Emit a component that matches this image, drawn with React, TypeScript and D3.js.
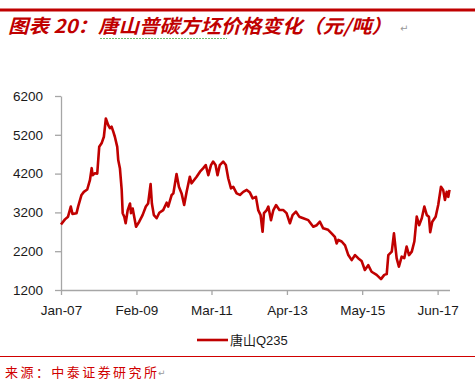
import React, { useEffect, useRef } from 'react';
import * as d3 from 'd3';

// 唐山Q235 price (date, yuan/ton)
const dates = [
  '2007-01-01', '2007-02-10', '2007-03-13', '2007-04-10', '2007-04-27', '2007-06-07',
  '2007-06-23', '2007-07-27', '2007-08-20', '2007-09-23', '2007-10-20', '2007-11-07',
  '2007-11-16', '2007-12-09', '2008-01-02', '2008-01-22', '2008-02-15', '2008-03-09',
  '2008-03-29', '2008-04-22', '2008-05-09', '2008-05-26', '2008-06-12', '2008-06-28',
  '2008-07-22', '2008-08-01', '2008-08-18', '2008-09-05', '2008-09-15', '2008-10-01',
  '2008-10-15', '2008-11-05', '2008-11-28', '2008-12-08', '2008-12-25', '2009-01-28',
  '2009-03-01', '2009-04-04', '2009-05-07', '2009-05-30', '2009-06-24', '2009-07-07',
  '2009-07-27', '2009-08-24', '2009-09-20', '2009-10-29', '2009-12-03', '2009-12-19',
  '2010-01-23', '2010-02-09', '2010-03-13', '2010-04-06', '2010-05-03', '2010-05-29',
  '2010-06-23', '2010-07-25', '2010-08-12', '2010-10-02', '2010-11-05', '2010-12-08',
  '2011-01-02', '2011-01-28', '2011-02-24', '2011-03-17', '2011-04-11', '2011-05-01',
  '2011-05-24', '2011-06-27', '2011-07-24', '2011-08-17', '2011-09-14', '2011-10-07',
  '2011-11-10', '2011-12-13', '2012-01-16', '2012-02-20', '2012-03-23', '2012-04-20',
  '2012-05-23', '2012-06-15', '2012-07-09', '2012-07-29', '2012-08-12', '2012-09-09',
  '2012-09-25', '2012-10-22', '2012-11-15', '2012-12-12', '2013-01-15', '2013-02-24',
  '2013-03-28', '2013-05-01', '2013-05-28', '2013-07-01', '2013-08-03', '2013-09-13',
  '2013-11-03', '2013-12-23', '2014-01-27', '2014-02-28', '2014-04-02', '2014-05-22',
  '2014-06-26', '2014-07-29', '2014-08-16', '2014-09-02', '2014-10-06', '2014-11-09',
  '2014-12-12', '2015-01-15', '2015-02-18', '2015-03-21', '2015-04-25', '2015-05-28',
  '2015-07-01', '2015-08-04', '2015-09-24', '2015-11-07', '2015-12-10', '2016-01-04',
  '2016-01-20', '2016-02-24', '2016-03-17', '2016-04-13', '2016-05-06', '2016-06-03',
  '2016-06-29', '2016-07-23', '2016-08-16', '2016-09-13', '2016-10-09', '2016-11-02',
  '2016-11-26', '2016-12-23', '2017-01-18', '2017-02-12', '2017-03-05', '2017-03-18',
  '2017-04-08', '2017-05-12', '2017-06-07', '2017-07-05', '2017-07-27', '2017-08-14',
  '2017-09-01', '2017-09-17', '2017-09-29',
];
const prices = [
  2890, 3020, 3090, 3350, 3160, 3180,
  3350, 3650, 3730, 3790, 4030, 4340,
  4160, 4210, 4200, 4890, 4980, 5150,
  5620, 5450, 5370, 5410, 5280, 5150,
  4890, 4550, 4340, 3780, 3180, 3090,
  2920, 3260, 3430, 3180, 3300, 2830,
  2960, 3130, 3350, 3430, 3930, 3430,
  3130, 3050, 3190, 3260, 3450, 3350,
  3650, 3690, 4190, 3860, 3690, 3390,
  3730, 4120, 3950, 4120, 4250, 4340,
  4420, 4160, 4420, 4510, 4420, 4160,
  4420, 4510, 4420, 4080, 3820, 3860,
  3690, 3650, 3730, 3780, 3710, 3560,
  3600, 3260, 3130, 2700, 3180, 3260,
  3350, 3000, 3260, 3390, 3260, 3260,
  3180, 2920, 3130, 3220, 3090, 3050,
  3000, 2830, 2870, 2960, 2790, 2750,
  2660, 2570, 2400, 2490, 2450, 2350,
  2100, 1970, 2100, 2020, 1950, 1715,
  1840, 1670, 1590, 1480, 1590, 1610,
  2100, 2190, 2660, 2020, 1800, 2060,
  2020, 2320, 2100, 2190, 2450, 3090,
  2870, 3050, 3350, 3130, 3090, 2690,
  2960, 3090, 3390, 3860, 3780, 3520,
  3730, 3600, 3780,
];
const xTickDates = ['2007-01-01', '2009-02-01', '2011-03-01', '2013-04-01', '2015-05-01', '2017-06-01'];
const yTicks = [1200, 2200, 3200, 4200, 5200, 6200];
const seriesName = '唐山Q235';
const titleText = '图表 20：唐山普碳方坯价格变化（元/吨）';
const sourceText = '来源：中泰证券研究所';

const RED = '#C00000';
const AXIS = '#A6A6A6';

export default function App() {
  const svgRef = useRef<SVGSVGElement>(null);

  useEffect(() => {
    const width = 475, height = 388;
    const parse = d3.timeParse('%Y-%m-%d');
    const data = dates.map((d, i) => ({ date: parse(d)!, value: prices[i] }));

    const svg = d3.select(svgRef.current);
    svg.selectAll('*').remove();

    const x = d3.scaleTime()
      .domain([parse('2007-01-01')!, data[data.length - 1].date])
      .range([61, 449.5]);
    const y = d3.scaleLinear().domain([1200, 6200]).range([290, 96]);

    svg.append('rect').attr('width', width).attr('height', height).attr('fill', '#fff');

    // header rule + title
    svg.append('line')
      .attr('x1', 0).attr('x2', width).attr('y1', 10).attr('y2', 10)
      .attr('stroke', RED).attr('stroke-width', 3);
    svg.append('text')
      .attr('x', 8).attr('y', 33)
      .attr('fill', RED)
      .attr('font-family', '"Noto Sans CJK SC", sans-serif')
      .attr('font-size', 19)
      .attr('font-weight', 'bold')
      .attr('font-style', 'italic')
      .attr('textLength', 384)
      .attr('lengthAdjust', 'spacingAndGlyphs')
      .text(titleText);
    svg.append('line')
      .attr('x1', 100).attr('x2', 227).attr('y1', 38.5).attr('y2', 38.5)
      .attr('stroke', '#6DBE6D').attr('stroke-width', 1).attr('stroke-dasharray', '2,1');
    svg.append('text')
      .attr('x', 400).attr('y', 32)
      .attr('fill', '#999').attr('font-size', 10)
      .attr('font-family', '"DejaVu Sans", sans-serif')
      .text('↵');

    // axes
    const xAxis = svg.append('g')
      .attr('transform', 'translate(0,290)')
      .call(d3.axisBottom(x)
        .tickValues(xTickDates.map(d => parse(d)!))
        .tickFormat(d => d3.timeFormat('%b-%y')(d as Date))
        .tickSize(5)
        .tickSizeOuter(0));
    const yAxis = svg.append('g')
      .attr('transform', 'translate(61,0)')
      .call(d3.axisLeft(y).tickValues(yTicks).tickFormat(d3.format('d')).tickSize(6).tickSizeOuter(0));

    [xAxis, yAxis].forEach(g => {
      g.select('.domain').attr('stroke', AXIS).attr('stroke-width', 1.3);
      g.selectAll('.tick line').attr('stroke', AXIS).attr('stroke-width', 1.3);
      g.selectAll('.tick text')
        .attr('fill', '#1a1a1a')
        .attr('font-family', '"Liberation Sans", Arial, sans-serif')
        .attr('font-size', 13.5);
    });
    xAxis.selectAll('.tick text').attr('dy', '1.25em');
    yAxis.selectAll('.tick text').attr('x', -18);
    xAxis.select('.domain').attr('d', 'M61,0.5H450');

    // series
    const line = d3.line<{ date: Date; value: number }>()
      .x(d => x(d.date))
      .y(d => y(d.value));
    svg.append('path')
      .datum(data)
      .attr('d', line)
      .attr('fill', 'none')
      .attr('stroke', RED)
      .attr('stroke-width', 2.6)
      .attr('stroke-linejoin', 'round');

    // legend
    svg.append('line')
      .attr('x1', 197).attr('x2', 228).attr('y1', 340).attr('y2', 340)
      .attr('stroke', RED).attr('stroke-width', 2.6);
    svg.append('text')
      .attr('x', 230).attr('y', 345)
      .attr('fill', '#1a1a1a')
      .attr('font-family', '"Liberation Sans", Arial, "Noto Sans CJK SC", sans-serif')
      .attr('font-size', 13)
      .text(seriesName);

    // footer
    svg.append('line')
      .attr('x1', 0).attr('x2', width).attr('y1', 356.5).attr('y2', 356.5)
      .attr('stroke', '#D00000').attr('stroke-width', 1);
    svg.append('text')
      .attr('x', 5).attr('y', 377)
      .attr('fill', '#D00000')
      .attr('font-family', '"Noto Sans CJK SC", sans-serif')
      .attr('font-size', 13)
      .attr('textLength', 152)
      .attr('lengthAdjust', 'spacing')
      .text(sourceText);
    svg.append('text')
      .attr('x', 158).attr('y', 376)
      .attr('fill', '#999').attr('font-size', 9)
      .attr('font-family', '"DejaVu Sans", sans-serif')
      .text('↵');
  }, []);

  return (
    <svg
      ref={svgRef}
      width={475}
      height={388}
      style={{ position: 'absolute', left: 0, top: 0 }}
    />
  );
}
